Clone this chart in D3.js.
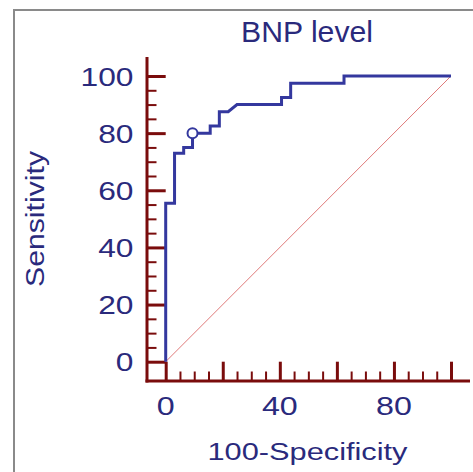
<!DOCTYPE html>
<html lang="en">
<head>
    <meta charset="UTF-8">
    <title>BNP level ROC curve</title>
    <script src="https://d3js.org/d3.v7.min.js"></script>
    <style>
        body { margin: 0; background: #fff; }
        .label {
            font-family: "Liberation Sans", Arial, sans-serif;
            fill: #2a2a7c;
        }
        .tick line { stroke: #7a0c0c; }
    </style>
</head>
<body>

<svg width="473" height="472"></svg>

<script>
    // ROC curve vertices (100-Specificity, Sensitivity)
    const fpr = [0, 0, 3.1, 3.1, 6.3, 6.3, 9.4, 9.4, 15.6, 15.6, 18.8, 18.8, 21.9, 25, 40.6, 40.6, 43.8, 43.8, 62.5, 62.5, 100];
    const tpr = [0, 55.5, 55.5, 73, 73, 75, 75, 80, 80, 82.5, 82.5, 87.5, 87.5, 90, 90, 92.5, 92.5, 97.5, 97.5, 100, 100];
    // optimal criterion point
    const critPoint = [9.4, 80];
    const majorTicks = [0, 20, 40, 60, 80, 100];
    const minorTicks = [5, 10, 15, 25, 30, 35, 45, 50, 55, 65, 70, 75, 85, 90, 95];
    const xTickLabels = [0, 40, 80];

    const svg = d3.select("svg");
    const axisColor = "#7a0c0c";
    const curveColor = "#34389e";

    const x = d3.scaleLinear().domain([0, 100]).range([165.7, 451]);
    const y = d3.scaleLinear().domain([0, 100]).range([361.7, 76]);

    // outer frame
    svg.append("rect")
        .attr("x", 14).attr("y", 10)
        .attr("width", 520).attr("height", 520)
        .attr("fill", "none")
        .attr("stroke", "#8a8a8a")
        .attr("stroke-width", 2);

    // title
    svg.append("text")
        .attr("class", "label")
        .attr("x", 307).attr("y", 41.5)
        .attr("text-anchor", "middle")
        .attr("font-size", 30)
        .attr("textLength", 132)
        .attr("lengthAdjust", "spacingAndGlyphs")
        .text("BNP level");

    // axis lines
    const axX = 147, axY = 381;
    svg.append("line")
        .attr("x1", axX).attr("x2", axX)
        .attr("y1", 57).attr("y2", axY + 1.5)
        .attr("stroke", axisColor).attr("stroke-width", 3);
    svg.append("line")
        .attr("x1", axX - 1.5).attr("x2", 470)
        .attr("y1", axY).attr("y2", axY)
        .attr("stroke", axisColor).attr("stroke-width", 3);

    // y ticks (pointing inward)
    const yMajor = svg.append("g")
        .attr("transform", `translate(${axX},0)`)
        .call(d3.axisRight(y).tickValues(majorTicks).tickSize(x(0) - axX).tickSizeOuter(0).tickFormat(""));
    yMajor.select(".domain").remove();
    yMajor.selectAll(".tick line").attr("stroke-width", 3);

    const yMinor = svg.append("g")
        .attr("transform", `translate(${axX},0)`)
        .call(d3.axisRight(y).tickValues(minorTicks).tickSize(9.5).tickSizeOuter(0).tickFormat(""));
    yMinor.select(".domain").remove();
    yMinor.selectAll(".tick line").attr("stroke-width", 2);

    // x ticks
    const xMajor = svg.append("g")
        .attr("transform", `translate(0,${axY})`)
        .call(d3.axisTop(x).tickValues(majorTicks).tickSize(axY - y(0)).tickSizeOuter(0).tickFormat(""));
    xMajor.select(".domain").remove();
    xMajor.selectAll(".tick line").attr("stroke-width", 3);

    const xMinor = svg.append("g")
        .attr("transform", `translate(0,${axY})`)
        .call(d3.axisTop(x).tickValues(minorTicks).tickSize(9.5).tickSizeOuter(0).tickFormat(""));
    xMinor.select(".domain").remove();
    xMinor.selectAll(".tick line").attr("stroke-width", 2);

    // tick labels
    svg.append("g").selectAll("text")
        .data(majorTicks)
        .enter().append("text")
        .attr("class", "label")
        .attr("font-size", 26)
        .attr("text-anchor", "end")
        .attr("transform", d => `translate(133.5,${y(d) + 9.6}) scale(1.22,1)`)
        .text(d => d);

    svg.append("g").selectAll("text")
        .data(xTickLabels)
        .enter().append("text")
        .attr("class", "label")
        .attr("font-size", 26)
        .attr("text-anchor", "middle")
        .attr("transform", d => `translate(${x(d)},415) scale(1.24,1)`)
        .text(d => d);

    // axis titles
    svg.append("text")
        .attr("class", "label")
        .attr("x", 307.5).attr("y", 460)
        .attr("text-anchor", "middle")
        .attr("font-size", 23.5)
        .attr("textLength", 200)
        .attr("lengthAdjust", "spacingAndGlyphs")
        .text("100-Specificity");

    svg.append("text")
        .attr("class", "label")
        .attr("transform", "translate(43.5,219) rotate(-90)")
        .attr("text-anchor", "middle")
        .attr("font-size", 25)
        .attr("textLength", 136)
        .attr("lengthAdjust", "spacingAndGlyphs")
        .text("Sensitivity");

    // reference diagonal
    svg.append("line")
        .attr("x1", x(0)).attr("y1", y(0))
        .attr("x2", x(100)).attr("y2", y(100))
        .attr("stroke", "#e07a7a")
        .attr("stroke-width", 1);

    // ROC curve
    const pts = fpr.map((v, i) => [v, tpr[i]]);
    svg.append("path")
        .datum(pts)
        .attr("fill", "none")
        .attr("stroke", curveColor)
        .attr("stroke-width", 3)
        .attr("stroke-linejoin", "miter")
        .attr("d", d3.line().x(d => x(d[0])).y(d => y(d[1])));

    svg.append("circle")
        .attr("cx", x(critPoint[0]))
        .attr("cy", y(critPoint[1]))
        .attr("r", 5)
        .attr("fill", "#fff")
        .attr("stroke", curveColor)
        .attr("stroke-width", 2);
</script>

</body>
</html>
